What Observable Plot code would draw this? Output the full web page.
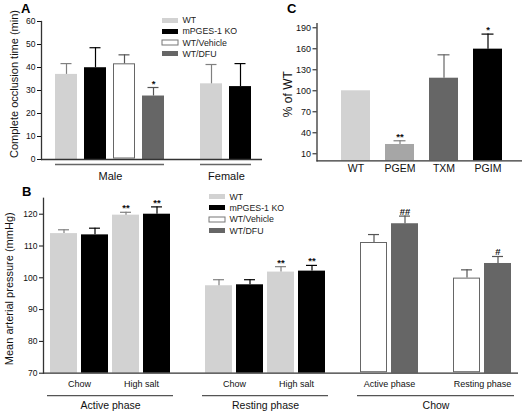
<!DOCTYPE html>
<html><head><meta charset="utf-8">
<script src="https://cdn.jsdelivr.net/npm/d3@7"></script>
<script src="https://cdn.jsdelivr.net/npm/@observablehq/plot@0.6"></script>
<style>
body{margin:0;background:#fff;}
#fig{position:relative;width:525px;height:418px;overflow:hidden;font-family:"Liberation Sans",Arial,Helvetica,sans-serif;}
#fig > *{position:absolute;margin:0;}
.letter{font-weight:bold;font-size:13px;line-height:13px;color:#000;}
.legA-swatch,.legB-swatch{height:11.3px;padding-bottom:0;}
.legA-swatch svg[fill="#ffffff"] rect,.legB-swatch svg[fill="#ffffff"] rect{stroke:#777;stroke-width:1;}
</style></head>
<body><div id="fig"></div>
<script>
const FONT = '"Liberation Sans", Arial, Helvetica, sans-serif';

// ---------------- shared legend groups ----------------
const groups    = ["WT", "mPGES-1 KO", "WT/Vehicle", "WT/DFU"];
const groupFill = ["#d2d2d2", "#000000", "#ffffff", "#666666"];
const groupErr  = ["#808080", "#000000", "#555555", "#555555"];

// ---------------- Panel A data ----------------
const aSex   = ["Male", "Male", "Male", "Male", "Female", "Female"];
const aGroup = ["WT", "mPGES-1 KO", "WT/Vehicle", "WT/DFU", "WT", "mPGES-1 KO"];
const aMean  = [37.0, 39.9, 41.6, 27.6, 32.9, 31.7];
const aErr   = [41.7, 48.6, 45.5, 31.3, 41.3, 41.7];
const aSig   = ["", "", "", "*", "", ""];
const aTicks = [0, 10, 20, 30, 40, 50, 60];

// ---------------- Panel B data ----------------
const bPhase = ["Active phase","Active phase","Active phase","Active phase",
                "Resting phase","Resting phase","Resting phase","Resting phase",
                "Chow","Chow","Chow","Chow"];
const bDiet  = ["Chow","Chow","High salt","High salt",
                "Chow","Chow","High salt","High salt",
                "Active phase","Active phase","Resting phase","Resting phase"];
const bGroup = ["WT","mPGES-1 KO","WT","mPGES-1 KO",
                "WT","mPGES-1 KO","WT","mPGES-1 KO",
                "WT/Vehicle","WT/DFU","WT/Vehicle","WT/DFU"];
const bMean  = [113.9, 113.5, 119.7, 120.0, 97.5, 97.8, 101.8, 102.1, 111.1, 117.0, 99.9, 104.5];
const bErr   = [115.1, 115.6, 120.6, 122.3, 99.4, 99.4, 103.5, 103.9, 113.6, 119.4, 102.5, 106.7];
const bSig   = ["", "", "**", "**", "", "", "**", "**", "", "##", "", "#"];
const bTicks = [70, 80, 90, 100, 110, 120];

// ---------------- Panel C data ----------------
const cCat   = ["WT", "PGEM", "TXM", "PGIM"];
const cFill  = ["#d2d2d2", "#a6a6a6", "#666666", "#000000"];
const cErrC  = ["#808080", "#808080", "#666666", "#000000"];
const cMean  = [100, 23.3, 118, 159.5];
const cErr   = [null, 28.6, 151.4, 181];
const cSig   = ["", "**", "", "*"];
const cTicks = [10, 40, 70, 100, 130, 160, 190];

const fig = document.getElementById("fig");
const errOf = g => groupErr[groups.indexOf(g)];

function barChart(o) {
  const n = o.domain.length;
  const step = (o.width - o.mr - o.insetR - o.ml - o.insetL) / (n - o.pad);
  const bw = step * (1 - o.pad);
  const ci = (bw - o.cap) / 2;
  const lo = o.yDomain[0];
  const withErr = o.data.filter(d => d.err != null);
  const errCols = [...new Set(withErr.map(d => d.errColor))];
  const marks = [
    Plot.barY(o.data, {x: "key", y1: () => lo, y2: "mean", fill: "c"}),
    Plot.barY(o.data.filter(d => d.outline), {x: "key", y1: () => lo, y2: "mean", fill: "none", stroke: "#666", insetLeft: 0.5, insetRight: 0.5, insetTop: 0.5, insetBottom: 1}),
    ...errCols.flatMap(col => {
      const dd = withErr.filter(d => d.errColor === col);
      return [
        Plot.ruleX(dd, {x: "key", y1: "mean", y2: "err", stroke: col, strokeWidth: 1.2}),
        Plot.tickY(dd, {x: "key", y: "err", stroke: col, strokeWidth: 1.2, insetLeft: ci, insetRight: ci})
      ];
    }),
    Plot.text(o.data.filter(d => d.sig), {x: "key", y: "err", text: "sig", lineAnchor: "bottom", dy: -1, fontSize: 9.5, fontWeight: "bold"}),
    Plot.ruleY([lo], {stroke: "#333", strokeWidth: 1.3}),
    Plot.frame({anchor: "left", stroke: "#333", strokeWidth: 1.3}),
    Plot.axisY({ticks: o.yTicks, tickSize: 4, tickPadding: 2, fontSize: o.tickFont, label: null}),
    Plot.text([o.yLabel], {text: d => d, frameAnchor: "left", textAnchor: "middle", lineAnchor: "middle", rotate: -90, dx: o.yLabelDx, dy: o.yLabelDy, fontSize: o.yLabelSize}),
    ...o.extra(step)
  ];
  const svg = Plot.plot({
    width: o.width, height: o.height,
    marginTop: o.mt, marginBottom: o.mb, marginLeft: o.ml, marginRight: o.mr,
    x: {type: "band", domain: o.domain, paddingInner: o.pad, paddingOuter: 0, insetLeft: o.insetL, insetRight: o.insetR, axis: null},
    y: {domain: o.yDomain},
    color: {domain: o.colorDomain, range: o.colorRange},
    style: {fontFamily: FONT, background: "transparent", overflow: "visible", color: "#111"},
    marks
  });
  svg.style.left = o.left + "px";
  svg.style.top = o.top + "px";
  fig.appendChild(svg);
}

// ---------- Panel A ----------
const aData = aSex.map((s, i) => ({key: s + " " + aGroup[i], sex: s, c: aGroup[i], mean: aMean[i], err: aErr[i],
  sig: aSig[i], outline: aGroup[i] === "WT/Vehicle", errColor: errOf(aGroup[i])}));
const aMaleKeys = aData.filter(d => d.sex === "Male").map(d => d.key);
const aFemaleKeys = aData.filter(d => d.sex === "Female").map(d => d.key);
const aDomain = [...aMaleKeys, "(gap)", ...aFemaleKeys];
const aSexGroups = [
  {sex: "Male", first: aMaleKeys[0], last: aMaleKeys[aMaleKeys.length - 1], anchor: aMaleKeys[aMaleKeys.length / 2 - 1]},
  {sex: "Female", first: aFemaleKeys[0], last: aFemaleKeys[aFemaleKeys.length - 1], anchor: aFemaleKeys[aFemaleKeys.length / 2 - 1]}
];
barChart({
  data: aData, domain: aDomain, yDomain: [0, 60], yTicks: aTicks,
  colorDomain: groups, colorRange: groupFill,
  left: 0, top: 0, width: 280, height: 185, mt: 21, mb: 26, ml: 41, mr: 18, insetL: 10.5, insetR: 8, pad: 0.231, cap: 12,
  tickFont: 8.5, yLabel: "Complete occlusion time (min)", yLabelDx: -27, yLabelDy: -6.5, yLabelSize: 11,
  extra: step => [
    Plot.ruleY(aSexGroups, {x1: "first", x2: "last", y: () => 0, dy: 5, stroke: "#666", strokeWidth: 1.3}),
    Plot.text(aSexGroups, {x: "anchor", y: () => 0, dy: 17, dx: step / 2, text: "sex", fontSize: 11})
  ]
});

// ---------- Panel C ----------
const cData = cCat.map((k, i) => ({key: k, c: k, mean: cMean[i], err: cErr[i], sig: cSig[i], outline: false, errColor: cErrC[i]}));
barChart({
  data: cData, domain: cCat, yDomain: [0, 196], yTicks: cTicks,
  colorDomain: cCat, colorRange: cFill,
  left: 280, top: 0, width: 245, height: 185, mt: 23.1, mb: 24.7, ml: 36.5, mr: 3, insetL: 23.5, insetR: 20.1, pad: 0.345, cap: 12,
  tickFont: 9, yLabel: "% of WT", yLabelDx: -28.5, yLabelDy: 2, yLabelSize: 12,
  extra: step => [
    Plot.axisX({tickSize: 0, tickPadding: 4, fontSize: 10.5, label: null})
  ]
});

// ---------- Panel B ----------
const bKeys = bPhase.map((p, i) => `${p} | ${bDiet[i]} | ${bGroup[i]}`);
const bData = bKeys.map((k, i) => ({key: k, c: bGroup[i], mean: bMean[i], err: bErr[i], sig: bSig[i],
  outline: bGroup[i] === "WT/Vehicle", errColor: errOf(bGroup[i])}));
const bDomain = [];
bKeys.forEach((k, i) => {
  if (i > 0 && (bPhase[i] !== bPhase[i - 1] || (bPhase[i] === "Chow" && bDiet[i] !== bDiet[i - 1]))) bDomain.push("(gap " + i + ")");
  bDomain.push(k);
});
const bPairs = [];
bKeys.forEach((k, i) => { if (i === 0 || bPhase[i] !== bPhase[i - 1] || bDiet[i] !== bDiet[i - 1]) bPairs.push({anchor: k, label: bDiet[i]}); });
const bGroupsInfo = [...new Set(bPhase)].map(p => {
  const ks = bKeys.filter((k, i) => bPhase[i] === p);
  const i0 = bDomain.indexOf(ks[0]), i1 = bDomain.indexOf(ks[ks.length - 1]);
  const m = i1 - i0 + 1;
  return {label: p, first: ks[0], last: ks[ks.length - 1], anchor: bDomain[i0 + Math.floor((m - 1) / 2)], odd: m % 2 === 1};
});
barChart({
  data: bData, domain: bDomain, yDomain: [70, 125], yTicks: bTicks,
  colorDomain: groups, colorRange: groupFill,
  left: 0, top: 180, width: 525, height: 238, mt: 17.8, mb: 45.3, ml: 43, mr: 7, insetL: 6.4, insetR: 6.4, pad: 0.13, cap: 11,
  tickFont: 8.5, yLabel: "Mean arterial pressure (mmHg)", yLabelDx: -34, yLabelDy: 3, yLabelSize: 11,
  extra: step => [
    Plot.text(bPairs, {x: "anchor", y: () => 70, dy: 10.7, dx: step / 2, text: "label", fontSize: 9}),
    Plot.ruleY(bGroupsInfo, {x1: "first", x2: "last", y: () => 70, dy: 22.5, stroke: "#555", strokeWidth: 1.2, insetLeft: -3, insetRight: -3}),
    Plot.text(bGroupsInfo.filter(d => !d.odd), {x: "anchor", y: () => 70, dy: 32.5, dx: step / 2, text: "label", fontSize: 10.5}),
    Plot.text(bGroupsInfo.filter(d => d.odd), {x: "anchor", y: () => 70, dy: 32.5, text: "label", fontSize: 10.5})
  ]
});

// ---------- legends ----------
function makeLegend(cls, left, top) {
  const lg = Plot.legend({
    color: {type: "ordinal", domain: groups, range: groupFill},
    legend: "swatches", columns: 1, swatchWidth: 16, swatchHeight: 5, className: cls,
    style: {fontFamily: FONT, fontSize: "8.8px", color: "#222", margin: "0"}
  });
  lg.style.position = "absolute";
  lg.style.left = left + "px";
  lg.style.top = top + "px";
  fig.appendChild(lg);
}
makeLegend("legA", 162, 14.4);
makeLegend("legB", 209, 191);

// ---------- panel letters ----------
[["A", 21, 2], ["C", 287, 2], ["B", 22, 185]].forEach(([t, x, y]) => {
  const d = document.createElement("div");
  d.className = "letter";
  d.textContent = t;
  d.style.left = x + "px";
  d.style.top = y + "px";
  fig.appendChild(d);
});
</script>
</body></html>
